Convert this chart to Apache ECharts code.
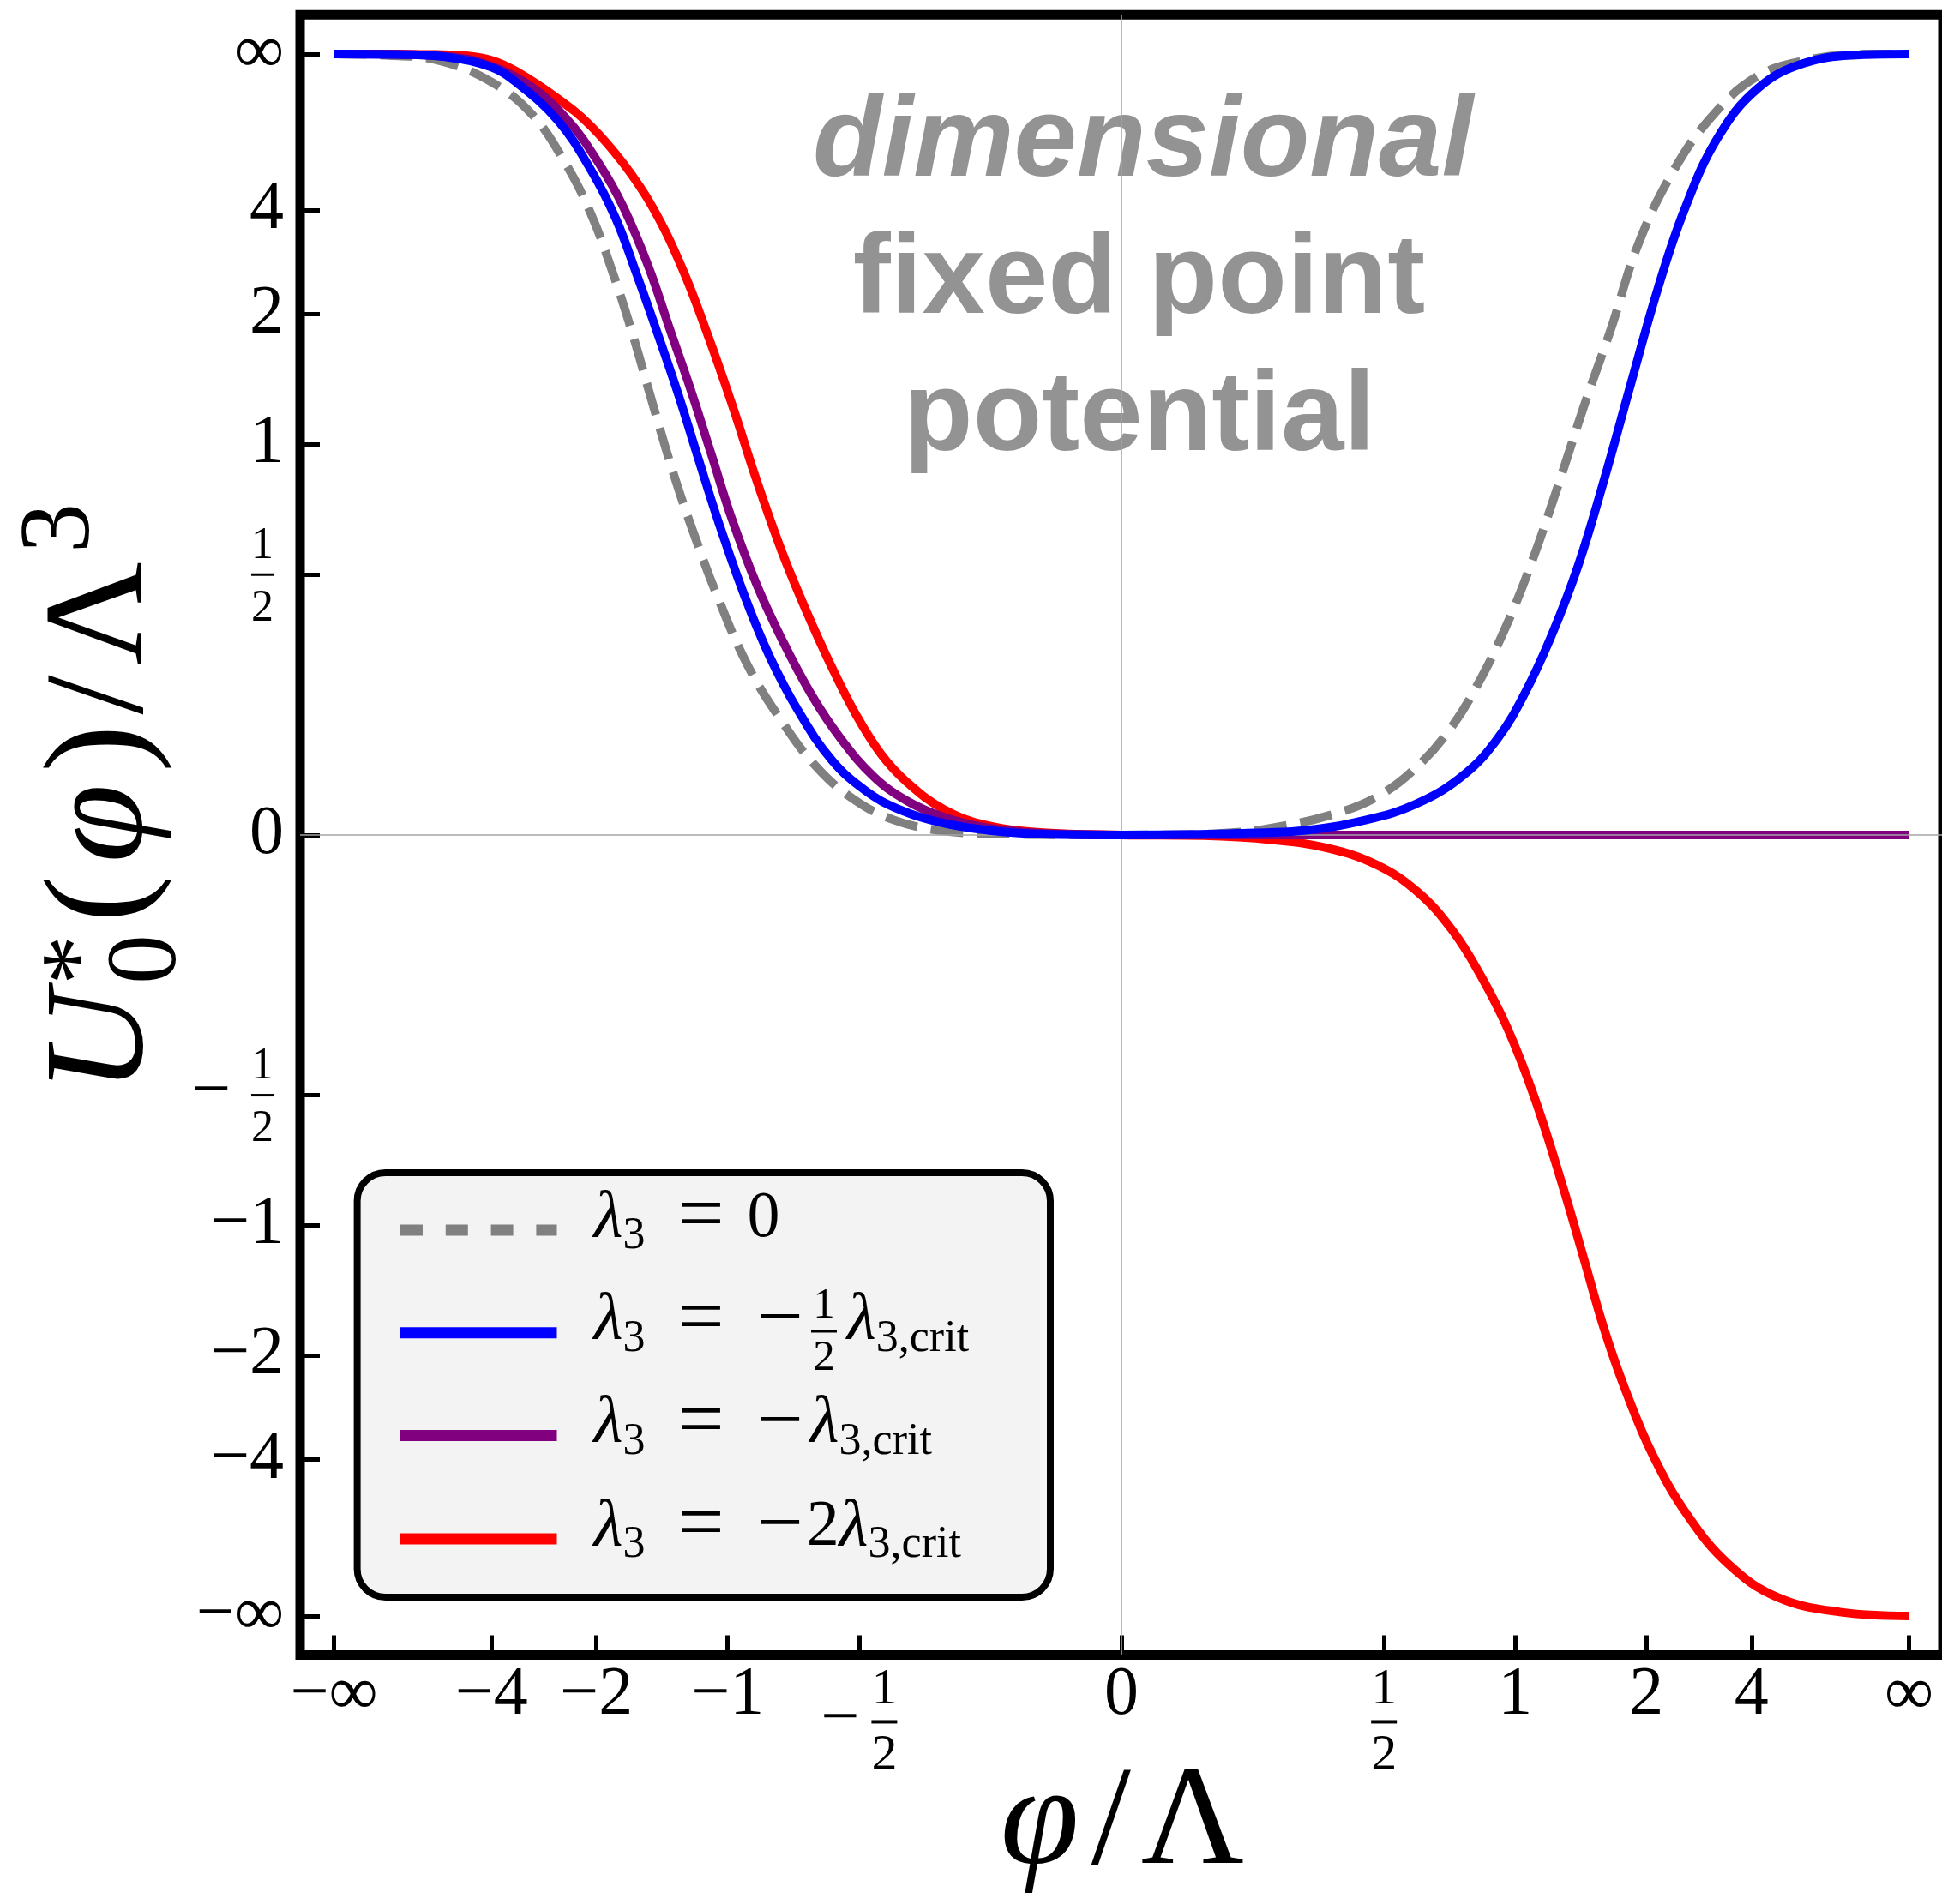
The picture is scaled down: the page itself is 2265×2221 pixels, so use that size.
<!DOCTYPE html>
<html>
<head>
<meta charset="utf-8">
<script src="https://cdn.jsdelivr.net/npm/echarts@6.0.0/dist/echarts.min.js"></script>
<style>html,body{margin:0;padding:0;background:#fff}#c{width:2265px;height:2221px}</style>
</head>
<body>
<div id="c"></div>
<script>
// Axes are compactified: plotted coordinate u = x/(1+|x|) (so ±∞ -> ±1).
// Curve values below in these compact coordinates.
const tickValues   = [-Infinity, -4, -2, -1, -0.5, 0, 0.5, 1, 2, 4, Infinity];
const xTickLabels  = ['−∞', '−4', '−2', '−1', '−½', '0', '½', '1', '2', '4', '∞'];
const yTickLabels  = ['−∞', '−4', '−2', '−1', '−½', '0', '½', '1', '2', '4', '∞'];
const seriesNames  = ['λ3 = 0', 'λ3 = −½ λ3,crit', 'λ3 = −λ3,crit', 'λ3 = −2 λ3,crit'];
const annotation   = ['dimensional', 'fixed point', 'potential'];

const grayU = [-1, -0.93, -0.869, -0.8, -0.748, -0.7055, -0.674, -0.648, -0.621, -0.595, -0.568, -0.542, -0.5105, -0.4736, -0.431, -0.389, -0.342, -0.2885, -0.226, -0.16, -0.08, 0, 0.08, 0.14, 0.19, 0.2675, 0.3266, 0.377, 0.419, 0.453, 0.487, 0.5205, 0.554, 0.588, 0.622, 0.6554, 0.698, 0.748, 0.807, 0.875, 0.94, 1];
const grayV = [1, 0.998, 0.992, 0.964, 0.922, 0.859, 0.796, 0.726, 0.642, 0.551, 0.46, 0.383, 0.299, 0.215, 0.145, 0.089, 0.047, 0.019, 0.005, 0.0015, 0.0002, 0, 0.0004, 0.003, 0.0087, 0.026, 0.05, 0.089, 0.138, 0.194, 0.264, 0.348, 0.446, 0.551, 0.649, 0.754, 0.845, 0.918, 0.971, 0.993, 0.9995, 1];

const blueU = [-1, -0.9, -0.85, -0.8, -0.769, -0.716, -0.674, -0.642, -0.616, -0.589, -0.563, -0.537, -0.5105, -0.4786, -0.447, -0.4105, -0.368, -0.3255, -0.283, -0.226, -0.17, -0.1, 0, 0.1, 0.16, 0.2254, 0.3096, 0.377, 0.436, 0.478, 0.512, 0.546, 0.58, 0.613, 0.647, 0.681, 0.7147, 0.7567, 0.807, 0.8665, 0.942, 1];
const blueV = [1, 0.999, 0.995, 0.983, 0.964, 0.915, 0.852, 0.789, 0.719, 0.642, 0.565, 0.481, 0.397, 0.306, 0.229, 0.159, 0.096, 0.057, 0.033, 0.015, 0.006, 0.001, 0, 0.0008, 0.0025, 0.005, 0.019, 0.041, 0.078, 0.124, 0.181, 0.255, 0.345, 0.455, 0.578, 0.699, 0.8, 0.892, 0.955, 0.988, 0.999, 1];

const purpleU = [-1, -0.9, -0.85, -0.8165, -0.758, -0.7055, -0.663, -0.632, -0.6, -0.574, -0.5476, -0.521, -0.4945, -0.463, -0.431, -0.394, -0.357, -0.315, -0.273, -0.226, -0.17, -0.1, 0, 0.5, 1];
const purpleV = [1, 0.9992, 0.996, 0.99, 0.964, 0.918, 0.859, 0.803, 0.726, 0.649, 0.572, 0.488, 0.404, 0.32, 0.25, 0.18, 0.124, 0.075, 0.044, 0.023, 0.009, 0.002, 0, 0, 0];

const redU = [-1, -0.92, -0.87, -0.836, -0.8, -0.769, -0.716, -0.674, -0.632, -0.595, -0.558, -0.526, -0.4945, -0.463, -0.431, -0.3995, -0.368, -0.336, -0.305, -0.273, -0.226, -0.17, -0.1, 0, 0.104, 0.1917, 0.262, 0.3234, 0.376, 0.42, 0.455, 0.4903, 0.5254, 0.5607, 0.587, 0.613, 0.6396, 0.6747, 0.7187, 0.771, 0.8329, 0.912, 1];
const redV = [1, 0.9998, 0.9993, 0.998, 0.992, 0.978, 0.943, 0.908, 0.859, 0.803, 0.726, 0.642, 0.551, 0.453, 0.362, 0.285, 0.215, 0.152, 0.103, 0.068, 0.033, 0.012, 0.003, 0, -0.001, -0.0064, -0.017, -0.038, -0.073, -0.122, -0.178, -0.248, -0.339, -0.451, -0.542, -0.633, -0.71, -0.794, -0.871, -0.934, -0.976, -0.995, -1];

const compact = t => t === Infinity ? 1 : (t === -Infinity ? -1 : t / (1 + Math.abs(t)));
const tickPos = tickValues.map(compact);
function nearest(v) { let b = 0; for (let i = 0; i < tickPos.length; i++) if (Math.abs(tickPos[i] - v) < Math.abs(tickPos[b] - v)) b = i; return b; }
const pts = (U, V) => U.map((u, i) => [u, V[i]]);

const FF = '"Liberation Serif", "Times New Roman", serif';
const SANS = '"Liberation Sans", Arial, sans-serif';
const tk = o => Object.assign({ fontFamily: FF, color: '#000' }, o);

const xRich = {
  a:  tk({ fontSize: 80 }),
  xn: tk({ fontSize: 60, lineHeight: 66 }),
  xb: tk({ fontSize: 1, width: 30, height: 4, lineHeight: 8, backgroundColor: '#000' }),
  xd: tk({ fontSize: 60, lineHeight: 72 }),
  xm: tk({ fontSize: 80, lineHeight: 8, height: 10, verticalAlign: 'bottom', padding: [0, 14, 0, 0] }),
  xp: tk({ fontSize: 80, lineHeight: 8, height: 10, verticalAlign: 'bottom', padding: [0, 14, 0, 0], color: 'rgba(0,0,0,0)' })
};
const yRich = {
  a:  tk({ fontSize: 80 }),
  yn: tk({ fontSize: 52, lineHeight: 66, height: 58, verticalAlign: 'bottom' }),
  yb: tk({ fontSize: 1, width: 26, height: 3, lineHeight: 8, backgroundColor: '#000' }),
  yd: tk({ fontSize: 52, lineHeight: 66, height: 72, verticalAlign: 'top' }),
  ys: tk({ fontSize: 1, width: 12, lineHeight: 1 }),
  ym: tk({ fontSize: 80, lineHeight: 8, height: 14, verticalAlign: 'bottom', padding: [0, 24, 0, 0] })
};
function xFmt(v) {
  const t = xTickLabels[nearest(v)];
  if (t === '½') return '{xn|1}\n{xb| }\n{xd|2}';
  if (t === '−½') return '{xp|−}{xn|1}\n{xm|−}{xb| }\n{xp|−}{xd|2}';
  return '{a|' + t + '}';
}
function yFmt(v) {
  const t = yTickLabels[nearest(v)];
  if (t === '½') return '{yn|1}{ys| }\n{yb| }{ys| }\n{yd|2}{ys| }';
  if (t === '−½') return '{yn|1}{ys| }\n{ym|−}{yb| }{ys| }\n{yd|2}{ys| }';
  return '{a|' + t + '}';
}

const nameRich = {
  u:  tk({ fontSize: 166, fontStyle: 'italic', lineHeight: 170, align: 'left', padding: [0, 6, 0, 0] }),
  st: tk({ fontSize: 116, width: 1, height: 124, verticalAlign: 'top', align: 'left' }),
  sb: tk({ fontSize: 116, height: 64, verticalAlign: 'bottom', align: 'left', padding: [0, 8, 0, 0] }),
  p:  tk({ fontSize: 166, lineHeight: 170, align: 'left', padding: [0, 6, 0, 6] }),
  f:  tk({ fontSize: 166, fontStyle: 'italic', lineHeight: 170, align: 'left', padding: [0, 8, 0, 8] }),
  sp: tk({ fontSize: 116, height: 74, verticalAlign: 'top', align: 'left', padding: [0, 0, 0, 4] })
};

// legend rich text (zrender graphic -> use fill)
const lk = o => Object.assign({ fontFamily: FF, fill: '#000', align: 'left' }, o);
const legRich = {
  L:  lk({ fontSize: 78, fontStyle: 'italic', lineHeight: 80 }),
  S:  lk({ fontSize: 52, height: 39, verticalAlign: 'bottom' }),
  E:  lk({ fontSize: 96, lineHeight: 80, padding: [0, 27, 0, 38] }),
  E2: lk({ fontSize: 96, lineHeight: 80, padding: [0, 38, 0, 38] }),
  M:  lk({ fontSize: 96, lineHeight: 80, padding: [0, 8, 0, 0] }),
  M2: lk({ fontSize: 96, lineHeight: 80, padding: [0, 4, 0, 0] }),
  N:  lk({ fontSize: 76, lineHeight: 80 })
};
const rowY = [1435, 1554.7, 1674.6, 1795];
const rowColors = ['#808080', '#0000ff', '#800080', '#ff0000'];
const legendChildren = [
  { type: 'rect', shape: { x: 416.6, y: 1368, width: 808.4, height: 495, r: 33 }, style: { fill: '#f3f3f3', stroke: '#000', lineWidth: 8 } }
];
rowY.forEach((y, i) => {
  legendChildren.push({ type: 'line', shape: { x1: 467, y1: y, x2: 649.5, y2: y },
    style: { stroke: rowColors[i], lineWidth: 13, lineDash: i === 0 ? [26, 26.8] : null, lineCap: 'butt' } });
});
function ltext(x, y, text) {
  return { type: 'text', x: x, y: y, style: { text: text, rich: legRich, fontFamily: FF, fontSize: 76, fill: '#000', align: 'left', verticalAlign: 'middle', textAlign: 'left', textVerticalAlign: 'middle' } };
}
legendChildren.push(ltext(692.7, rowY[0] - 13, '{L|λ}{S|3}{E|=}{N|0}'));
legendChildren.push(ltext(692.7, rowY[1] - 13, '{L|λ}{S|3}{E2|=}{M|−}'));
legendChildren.push({ type: 'text', x: 961, y: 1524, style: { text: '1', fontFamily: FF, fontSize: 51, fill: '#000', align: 'center', verticalAlign: 'middle', textAlign: 'center', textVerticalAlign: 'middle' } });
legendChildren.push({ type: 'rect', shape: { x: 946, y: 1551.5, width: 30, height: 3 }, style: { fill: '#000' } });
legendChildren.push({ type: 'text', x: 961, y: 1584.5, style: { text: '2', fontFamily: FF, fontSize: 51, fill: '#000', align: 'center', verticalAlign: 'middle', textAlign: 'center', textVerticalAlign: 'middle' } });
legendChildren.push(ltext(988, rowY[1] - 13, '{L|λ}{S|3,crit}'));
legendChildren.push(ltext(692.7, rowY[2] - 13, '{L|λ}{S|3}{E2|=}{M|−}{L|λ}{S|3,crit}'));
legendChildren.push(ltext(692.7, rowY[3] - 13, '{L|λ}{S|3}{E2|=}{M2|−}{N|2}{L|λ}{S|3,crit}'));

function atext(x, y, text, italic) {
  return { type: 'text', z: 1, x: x, y: y, style: { text: text, fontFamily: SANS, fontSize: 132, fontWeight: 'bold', fontStyle: italic ? 'italic' : 'normal', fill: '#939393', align: 'center', verticalAlign: 'middle', textAlign: 'center', textVerticalAlign: 'middle' } };
}

const lineSeries = (name, U, V, color, z, dash) => ({
  type: 'line', name: name, data: pts(U, V), showSymbol: false, symbol: 'none', smooth: 0.4,
  lineStyle: { color: color, width: 10, type: dash || 'solid', cap: 'butt', join: 'round' }, z: z, silent: true
});

const option = {
  animation: false,
  backgroundColor: '#ffffff',
  textStyle: { fontFamily: FF },
  grid: { left: 350, top: 17.35, width: 1916, height: 1913.1, show: true, borderColor: '#000', borderWidth: 11, backgroundColor: 'transparent', containLabel: false, outerBoundsMode: 'none' },
  xAxis: {
    type: 'value', min: -1.043, max: 1.043,
    axisLine: { show: false, onZero: false },
    splitLine: { show: false },
    axisTick: { show: true, inside: true, length: 23, customValues: tickPos, lineStyle: { color: '#000', width: 5 } },
    axisLabel: { show: true, customValues: tickPos, margin: 8, fontFamily: FF, fontSize: 80, color: '#000', formatter: xFmt, rich: xRich },
    name: '{f|φ}{p|/}{p|Λ}', nameLocation: 'middle', nameGap: 114, nameMoveOverlap: false,
    nameTextStyle: { fontFamily: FF, fontSize: 166, color: '#000', rich: nameRich }
  },
  yAxis: {
    type: 'value', min: -1.05, max: 1.05,
    axisLine: { show: false, onZero: false },
    splitLine: { show: false },
    axisTick: { show: true, inside: true, length: 23, customValues: tickPos, lineStyle: { color: '#000', width: 5 } },
    axisLabel: { show: true, customValues: tickPos, margin: 19, fontFamily: FF, fontSize: 80, color: '#000', formatter: yFmt, rich: yRich },
    name: '{u|U}{st|*}{sb|0}{p|(}{f|φ}{p|)}{p|/}{p|Λ}{sp|3}', nameLocation: 'middle', nameRotate: 90, nameGap: 144, nameMoveOverlap: false,
    nameTextStyle: { fontFamily: FF, fontSize: 166, color: '#000', rich: nameRich, padding: [0, 0, 0, 86] }
  },
  series: [
    { type: 'line', name: 'axes', data: [], symbol: 'none', z: 1, silent: true,
      markLine: { silent: true, symbol: ['none', 'none'], label: { show: false }, animation: false,
        lineStyle: { color: '#a4a4a4', width: 1.5, type: 'solid' }, data: [{ xAxis: 0 }, { yAxis: 0 }] } },
    lineSeries(seriesNames[0], grayU, grayV, '#808080', 2, [38, 16]),
    lineSeries(seriesNames[3], redU, redV, '#ff0000', 3),
    lineSeries(seriesNames[2], purpleU, purpleV, '#800080', 4),
    lineSeries(seriesNames[1], blueU, blueV, '#0000ff', 5)
  ],
  graphic: [
    atext(1333, 169, annotation[0], true),
    atext(1328.5, 329, annotation[1], false),
    atext(1329, 489, annotation[2], false),
    { type: 'group', z: 10, children: legendChildren }
  ]
};
const chart = echarts.init(document.getElementById('c'), null, { renderer: 'canvas' });
chart.setOption(option);
</script>
</body>
</html>
